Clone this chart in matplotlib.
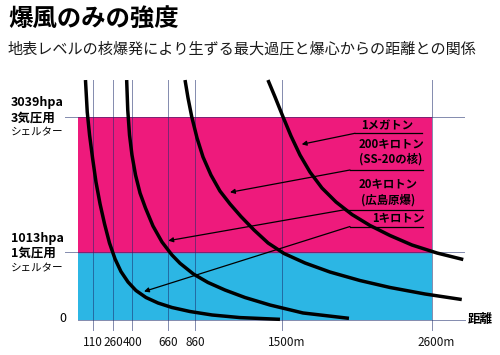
import matplotlib
matplotlib.use("Agg")
import matplotlib.pyplot as plt

plt.rcParams["font.family"] = ["Noto Sans CJK JP", "DejaVu Sans"]

# ---- data -------------------------------------------------------------
pressure_levels = [1013, 3039]                 # hPa, shelter ratings
pressure_labels = ["1013hpa\n1気圧用\nシェルター", "3039hpa\n3気圧用\nシェルター"]
distance_ticks = [110, 260, 400, 660, 860, 1500, 2600]   # m
distance_labels = ["110", "260", "400", "660", "860", "1500m", "2600m"]

yield_names = ["1KT", "10KT", "20KT", "1MT"]

dist_1kt = [57, 70, 87, 109, 134, 164, 197, 233, 274, 317, 369, 427, 501,
            589, 691, 823, 985, 1190, 1483]
pres_1kt = [3587, 3109, 2765, 2421, 2063, 1734, 1435, 1151, 912, 725, 568,
            441, 336, 254, 187, 127, 75, 36, 10]

dist_10kt = [359, 367, 380, 398, 424, 457, 497, 552, 618, 691, 750, 848,
             955, 1080, 1227, 1410, 1652, 1989]
pres_10kt = [3587, 3139, 2765, 2466, 2167, 1898, 1674, 1405, 1166, 972, 848,
             688, 561, 448, 336, 224, 105, 25]

dist_20kt = [787, 809, 836, 875, 919, 977, 1043, 1117, 1197, 1293, 1396,
             1513, 1667, 1850, 2070, 2290, 2546, 2816]
pres_20kt = [3587, 3318, 3039, 2720, 2436, 2167, 1928, 1734, 1547, 1345,
             1151, 994, 852, 717, 590, 486, 389, 306]

dist_1mt = [1395, 1447, 1503, 1564, 1630, 1703, 1791, 1894, 2011, 2143,
            2290, 2451, 2635, 2827]
pres_1mt = [3587, 3333, 3049, 2750, 2466, 2212, 1973, 1764, 1577, 1413,
            1263, 1121, 1001, 904]

callout_labels = ["1メガトン", "200キロトン\n(SS-20の核)",
                  "20キロトン\n(広島原爆)", "1キロトン"]

# ---- figure ------------------------------------------------------------
W, H = 500, 355
fig = plt.figure(figsize=(W / 100, H / 100), dpi=100)
fig.patch.set_facecolor("white")

ax = fig.add_axes([77.7 / W, 35 / H, 354.6 / W, 203.3 / H])
ax.set_xlim(0, 2600)
ax.set_ylim(0, 3039)
ax.axis("off")

PINK = "#ee1a7c"
CYAN = "#2cb6e4"
GRID = "#1c2c6c"

ax.axhspan(0, pressure_levels[0], color=CYAN, zorder=0)
ax.axhspan(pressure_levels[0], pressure_levels[1], color=PINK, zorder=0)

# horizontal reference lines (pressure levels and zero line)
for p in pressure_levels:
    ax.plot([-95, 2830], [p, p], color=GRID, lw=0.7, alpha=0.55,
            clip_on=False, zorder=1)
ax.plot([0, 2842], [0, 0], color=GRID, lw=0.7, alpha=0.55,
        clip_on=False, zorder=1)

# vertical distance lines
for d in distance_ticks:
    ax.plot([d, d], [-150, 3587], color=GRID, lw=0.7, alpha=0.55,
            clip_on=False, zorder=1)

for d, lab in zip(distance_ticks, distance_labels):
    dx = 4 if lab.endswith("m") else 0
    ax.annotate(lab, xy=(d, 0), xytext=(dx, -23), textcoords="offset pixels",
                ha="center", va="center", fontsize=8.5, color="#111")

# blast curves
curves = [(dist_1kt, pres_1kt), (dist_10kt, pres_10kt),
          (dist_20kt, pres_20kt), (dist_1mt, pres_1mt)]
label_dx = [0, 0, -4, -1]
for (xs, ys), name, dx in zip(curves, yield_names, label_dx):
    ax.plot(xs, ys, color="black", lw=2.5, solid_capstyle="butt",
            solid_joinstyle="round", clip_on=False, zorder=3)
    ax.annotate(name, xy=(xs[0], ys[0]), xytext=(dx, 10),
                textcoords="offset pixels", ha="center", va="center",
                fontsize=8.5, fontweight="bold")

# ---- texts -------------------------------------------------------------
def fy(y):
    return H - y

fig.text(8 / W, 1 - 19 / H, "爆風のみの強度", fontsize=17.6, fontweight="bold",
         ha="left", va="center")
fig.text(8 / W, 1 - 49 / H,
         "地表レベルの核爆発により生ずる最大過圧と爆心からの距離との関係",
         fontsize=10.9, ha="left", va="center", color="#1a1a1a")

for p, lab in zip(pressure_levels, pressure_labels):
    top, mid, bot = lab.split("\n")
    ax.annotate(top, xy=(0, p), xytext=(-67, 14), textcoords="offset pixels",
                ha="left", va="center", fontsize=9, fontweight="bold")
    ax.annotate(mid, xy=(0, p), xytext=(-67, -1), textcoords="offset pixels",
                ha="left", va="center", fontsize=9, fontweight="bold")
    ax.annotate(bot, xy=(0, p), xytext=(-67, -16), textcoords="offset pixels",
                ha="left", va="center", fontsize=7.6)

ax.annotate("0", xy=(0, 0), xytext=(-15, 1), textcoords="offset pixels",
            ha="center", va="center", fontsize=9)
fig.text(480 / W, 1 - 320 / H, "距離", fontsize=9, fontweight="bold",
         ha="center", va="center")

# callouts: label above an underline, then a slanted arrow to a curve
callout_text_y = [126, 151.5, 192, 217.3]
callout_line = [(421.7, 355, 133.3), (423.3, 350, 170),
                (423.3, 345, 209.7), (423, 350, 226.5)]
callout_tip = [(301.7, 144.3), (230, 192.3), (168.3, 240.7), (144, 291.5)]
callout_x = [387, 391, 388, 398]

for lab, ty, (x1, x0, ly), (tx, tyy), cx in zip(
        callout_labels, callout_text_y, callout_line, callout_tip, callout_x):
    fig.text(cx / W, 1 - ty / H, lab, fontsize=8.2, fontweight="bold",
             ha="center", va="center", linespacing=1.25)
    fig.add_artist(plt.Line2D([x1 / W, x0 / W], [1 - ly / H, 1 - ly / H],
                              color="black", lw=0.9))
    ax.annotate("", xy=(tx, fy(tyy)), xycoords="figure pixels",
                xytext=(x0, fy(ly)), textcoords="figure pixels",
                arrowprops=dict(arrowstyle="-|>", color="black", lw=0.9,
                                mutation_scale=7, shrinkA=0, shrinkB=0))

fig.savefig("out.png", dpi=100, facecolor="white")
